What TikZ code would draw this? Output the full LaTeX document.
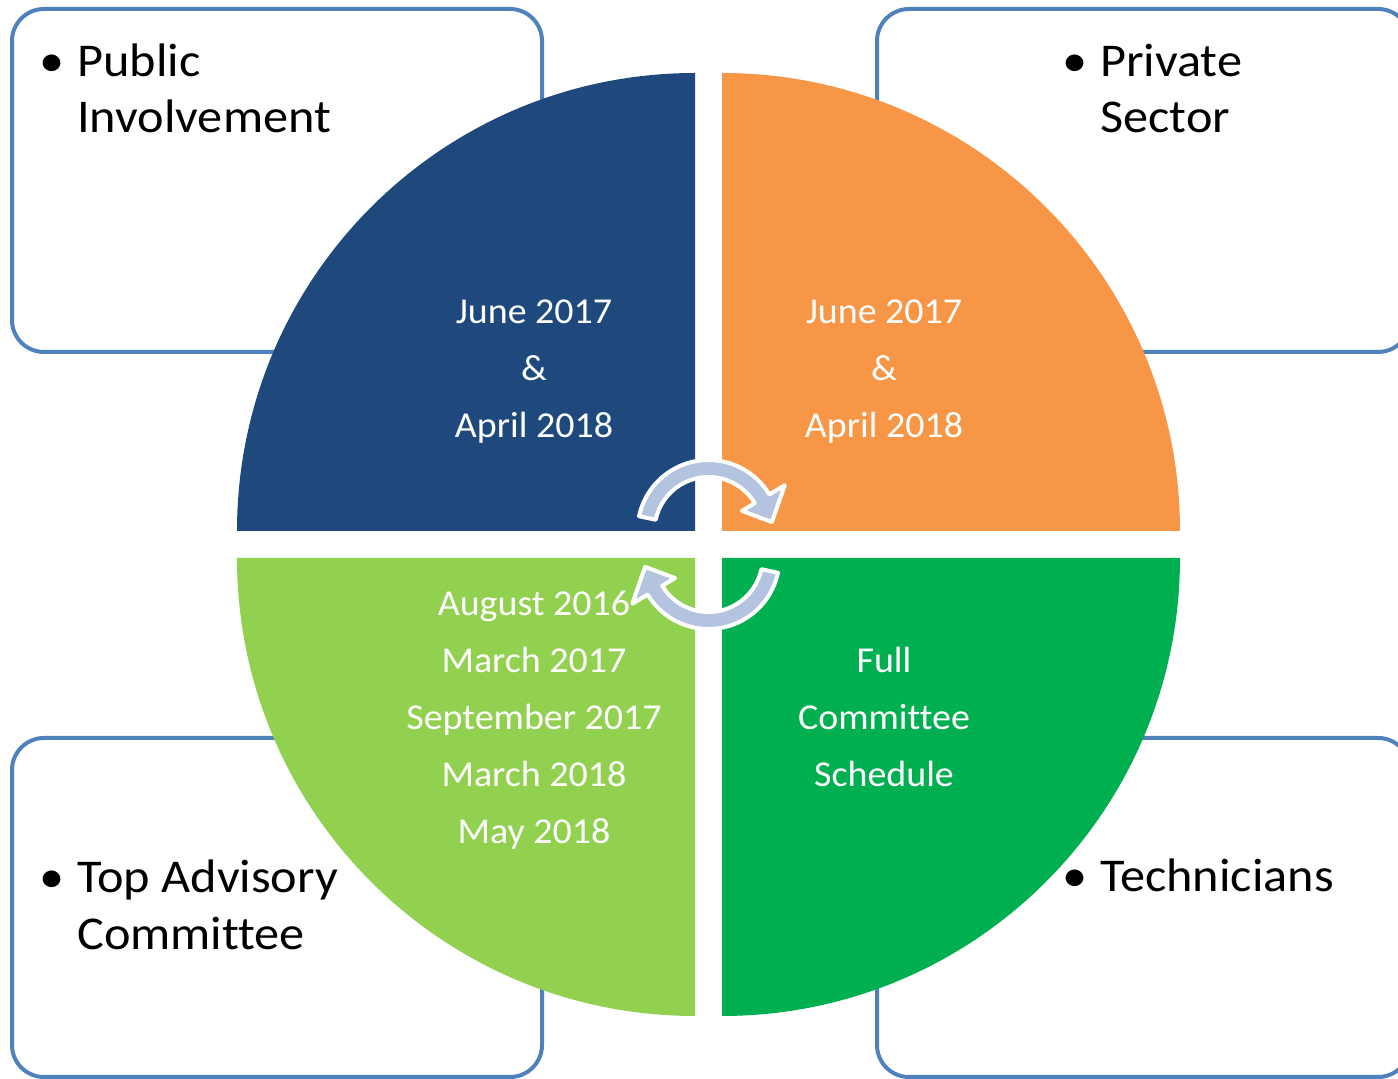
\documentclass[tikz,border=0pt]{standalone}
\usepackage{fontspec}
\setmainfont{Carlito}
\newfontfamily\framefont[FakeStretch=1.07, Ligatures=NoCommon]{Carlito}
\newfontfamily\datefont[FakeStretch=1.04, Ligatures=NoCommon]{Carlito}
\definecolor{quadblue}{HTML}{1F497D}
\definecolor{quadorange}{HTML}{F79646}
\definecolor{quadlime}{HTML}{92D050}
\definecolor{quadgreen}{HTML}{00B050}
\definecolor{boxline}{HTML}{4F81BD}
\definecolor{arrowfill}{RGB}{180,196,224}
\tikzset{
    sidebox/.style={draw=boxline, line width=4pt, rounded corners=32pt},
    boxtext/.style={anchor=base west, inner sep=0pt, font=\framefont\fontsize{47}{55}\selectfont},
    boxbullet/.style={anchor=base, inner sep=0pt, font=\framefont\fontsize{47}{55}\selectfont},
    datetext/.style={anchor=base, inner sep=0pt, text=white, font=\datefont\fontsize{36.5}{57}\selectfont},
    cyclearrow/.style={fill=arrowfill, draw=white, line width=4pt, line join=round}
}
\begin{document}
\begin{tikzpicture}[x=1pt, y=1pt]
    \useasboundingbox (0,0) rectangle (1398,1079);
    % side frames
    \draw[sidebox] (12,727) rectangle (542,1070);
    \draw[sidebox] (877,727) rectangle (1410,1070);
    \draw[sidebox] (12,2) rectangle (542,341);
    \draw[sidebox] (877,2) rectangle (1410,341);
    % quarter discs
    \fill[quadblue] (695,548) -- ++(-458,0) arc[start angle=180, end angle=90, radius=458pt] -- cycle;
    \fill[quadorange] (722,548) -- ++(0,458) arc[start angle=90, end angle=0, radius=458pt] -- cycle;
    \fill[quadlime] (695,521) -- ++(-458,0) arc[start angle=180, end angle=270, radius=458pt] -- cycle;
    \fill[quadgreen] (722,521) -- ++(458,0) arc[start angle=0, end angle=-90, radius=458pt] -- cycle;
    % cycle arrows
    \foreach \cy/\rot in {548/0, 521/180} {
        \begin{scope}[shift={(708.5,\cy)}, rotate=\rot]
            \draw[cyclearrow] (168:71pt) arc[start angle=168, end angle=31, radius=71pt]
                -- (31:89pt) -- (8:64pt) -- (31:39pt) -- (31:54pt)
                arc[start angle=31, end angle=168, radius=54pt] -- cycle;
        \end{scope}
    }
    % dates
    \foreach \txt [count=\i] in {June 2017, \&, April 2018}
        \node[datetext] (pub\i) at (534,812-57*\i) {\txt};
    \foreach \txt [count=\i] in {June 2017, \&, April 2018}
        \node[datetext] (pri\i) at (884,812-57*\i) {\txt};
    \foreach \txt [count=\i] in {August 2016, March 2017, September 2017, March 2018, May 2018}
        \node[datetext] (top\i) at (534,520-57*\i) {\txt};
    \foreach \txt [count=\i] in {Full, Committee, Schedule}
        \node[datetext] (full\i) at (884,463-57*\i) {\txt};
    % frame labels
    \node[boxbullet] (bulpub) at (52,1002) {•};
    \node[boxtext] (publine1) at (77,1002) {Public};
    \node[boxtext] (publine2) at (77,946) {Involvement};
    \node[boxbullet] (bulpri) at (1075,1002) {•};
    \node[boxtext] (priline1) at (1100,1002) {Private};
    \node[boxtext] (priline2) at (1100,946) {Sector};
    \node[boxbullet] (bultop) at (52,186) {•};
    \node[boxtext] (topline1) at (77,186) {Top Advisory};
    \node[boxtext] (topline2) at (77,129) {Committee};
    \node[boxbullet] (bultech) at (1075,187) {•};
    \node[boxtext] (techline) at (1100,187) {Technicians};
\end{tikzpicture}
\end{document}
